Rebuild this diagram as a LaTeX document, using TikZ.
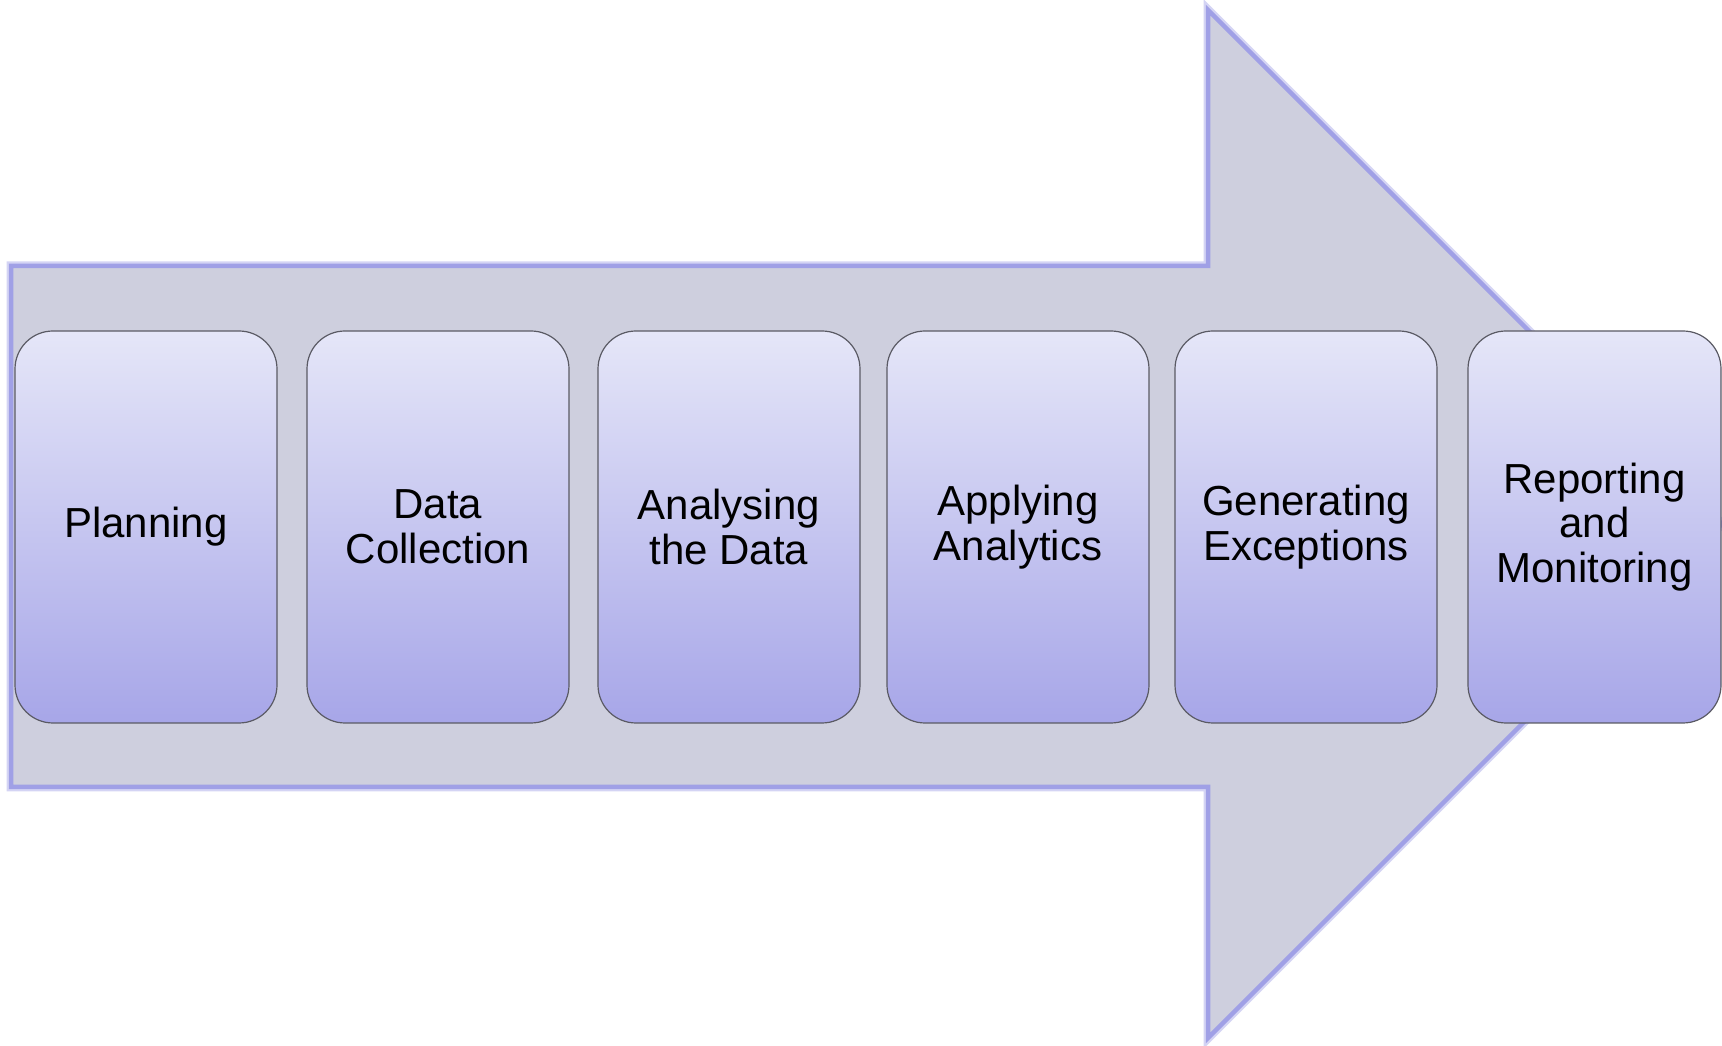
\documentclass[tikz,border=0pt]{standalone}
\usepackage{fontspec}
\setmainfont{Liberation Sans}
\usepackage{tikz}

\definecolor{shaftfill}{RGB}{206,207,222}
\definecolor{shaftline}{RGB}{160,160,230}
\definecolor{stagetop}{RGB}{229,230,248}
\definecolor{stagebot}{RGB}{167,166,232}
\definecolor{stageline}{RGB}{90,90,100}

\tikzset{
  stage/.style={draw=stageline, line width=1.2pt, rounded corners=38pt,
    top color=stagetop, bottom color=stagebot,
    minimum width=262pt, minimum height=392pt, inner sep=0pt,
    align=center, font=\fontsize{42}{44.5}\selectfont}
}

\begin{document}
\begin{tikzpicture}[x=1pt,y=1pt]
   \useasboundingbox (0,0) rectangle (1722,1045);

   % the big arrow
   \draw[shaftline!45, line width=9pt, line join=miter] (11,779) -- (1208,779) -- (1208,1035) -- (1722,521) -- (1208,7) -- (1208,258) -- (11,258) -- cycle;
   \draw[fill=shaftfill, draw=shaftline, line width=4.5pt, line join=miter] (11,779) -- (1208,779) -- (1208,1035) -- (1722,521) -- (1208,7) -- (1208,258) -- (11,258) -- cycle;

   % the stages
   \node[stage] (plan) at (146,518) {Planning};
   \node[stage] (collect) at (438,518) {Data\\Collection};
   \node[stage] (analyse) at (729,518) {Analysing\\the Data};
   \node[stage] (apply) at (1018,518) {Applying\\Analytics};
   \node[stage] (except) at (1306,518) {Generating\\Exceptions};
   \node[stage, minimum width=253pt] (report) at (1594.5,518) {Reporting\\and\\Monitoring};
\end{tikzpicture}
\end{document}
